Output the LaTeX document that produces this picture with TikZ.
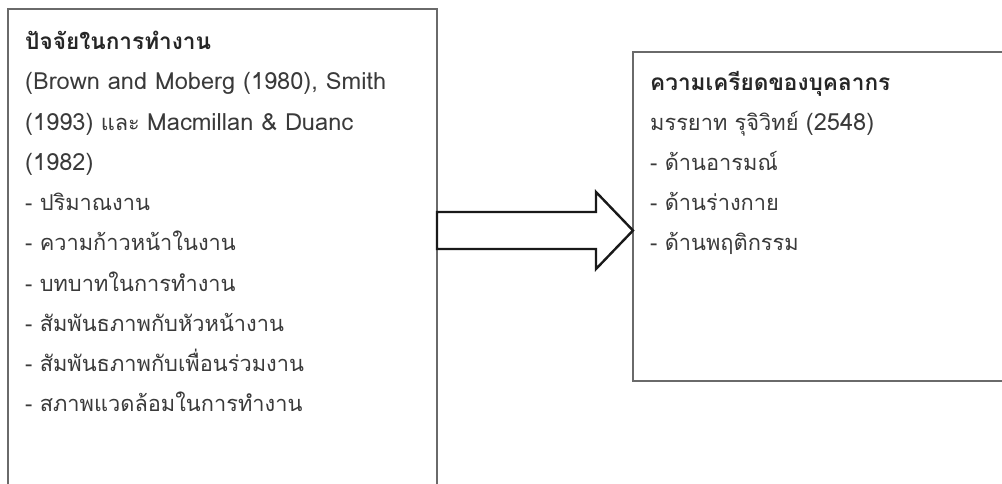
\documentclass[tikz,border=0pt]{standalone}
\usepackage{fontspec}
\setmainfont[Script=Thai]{Loma}
\usetikzlibrary{calc}
\definecolor{boxgray}{HTML}{6A6A6A}
\definecolor{txtgray}{HTML}{3A3A3A}
\newcommand{\latn}[1]{{\fontsize{23.6}{24}\selectfont #1}}
\begin{document}
\begin{tikzpicture}[x=1pt,y=-1pt,
  panel/.style={draw=boxgray, line width=2pt, fill=none, rectangle, inner sep=0pt, outer sep=0pt},
  ttl/.style={anchor=base west, inner sep=0pt, font=\fontsize{22.6}{24}\selectfont\bfseries, text=black!85},
  itm/.style={anchor=base west, inner sep=0pt, font=\fontsize{21.8}{24}\selectfont, text=txtgray},
  bigarrow/.style={draw=black!90, line width=2.4pt, fill=white, line join=miter}]
\useasboundingbox (0,0) rectangle (1002,484);
\clip (0,0) rectangle (1002,484);
% boxes
\node[panel, minimum width=429pt, minimum height=491pt, anchor=north west] (L) at (8,9) {};
\node[panel, minimum width=387pt, minimum height=329pt, anchor=north west] (R) at (633,52) {};
% arrow from L to R
\coordinate (A0) at (L.east |- 0,230.5);
\coordinate (A1) at (R.west |- 0,230.5);
\draw[bigarrow] ($(A0)+(0,-18.5)$) -- ($(A1)+(-37,-18.5)$) -- ($(A1)+(-37,-38.5)$) -- (A1)
  -- ($(A1)+(-37,38.5)$) -- ($(A1)+(-37,18.5)$) -- ($(A0)+(0,18.5)$) -- cycle;
% left texts
\node[ttl] (l1) at (25,50) {ปัจจัยในการทำงาน};
\node[itm] (l2) at (25,90) {\latn{(Brown and Moberg (1980), Smith}};
\node[itm] (l3) at (25,130.5) {\latn{(1993)} และ \latn{Macmillan \& Duanc}};
\node[itm] (l4) at (25,170.5) {\latn{(1982)}};
\node[itm] (l5) at (25,211) {- ปริมาณงาน};
\node[itm] (l6) at (25,251) {- ความก้าวหน้าในงาน};
\node[itm] (l7) at (25,291) {- บทบาทในการทำงาน};
\node[itm] (l8) at (25,331) {- สัมพันธภาพกับหัวหน้างาน};
\node[itm] (l9) at (25,371) {- สัมพันธภาพกับเพื่อนร่วมงาน};
\node[itm] (l10) at (25,411) {- สภาพแวดล้อมในการทำงาน};
% right texts
\node[ttl] (r1) at (650,91) {ความเครียดของบุคลากร};
\node[itm] (r2) at (650,131) {มรรยาท รุจิวิทย์ \latn{(2548)}};
\node[itm] (r3) at (650,171) {- ด้านอารมณ์};
\node[itm] (r4) at (650,211) {- ด้านร่างกาย};
\node[itm] (r5) at (650,251) {- ด้านพฤติกรรม};
\end{tikzpicture}
\end{document}
